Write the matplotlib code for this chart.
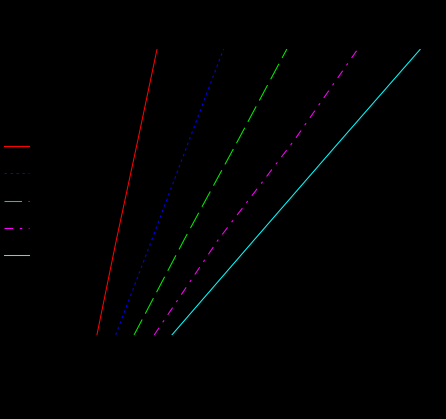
import matplotlib
matplotlib.use('Agg')
import matplotlib.pyplot as plt

plt.rcParams['lines.scale_dashes'] = False

# values (x at four heights, shared y)
size = [38.0, 71.1, 105.9, 138.0]
series_names = ['A', 'B', 'C', 'D', 'E']
series_a = [6.6, 12.2, 18.4, 24.0]
series_b = [12.0, 22.4, 33.2, 43.2]
series_c = [17.3, 31.7, 47.3, 61.5]
series_d = [23.1, 41.5, 63.5, 82.0]
series_e = [28.2, 51.9, 76.9, 100.1]

colors = ['red', 'blue', '#00ee00', 'magenta', 'cyan']
styles = ['-', (0, (1.8, 2.5)), (0, (12.6, 4.8)), (0, (6.3, 4.75, 1.7, 4.75)), '-']

fig = plt.figure(figsize=(4.46, 4.19), dpi=100, facecolor='black')
ax = fig.add_axes([74 / 446, 84 / 419, 347 / 446, 287 / 419])
ax.set_facecolor('black')

all_series = [series_a, series_b, series_c, series_d, series_e]
for vals, name, c, ls in zip(all_series, series_names, colors, styles):
    ax.plot(vals, size, color=c, linestyle=ls, linewidth=0.75, label=name)

ax.set_xlim(0, 100)
ax.set_ylim(38, 138)
for s in ax.spines.values():
    s.set_color('black')
ax.tick_params(colors='black')

handles, labels = ax.get_legend_handles_labels()
leg = fig.legend(handles, labels, loc='center left',
                 bbox_to_anchor=(4 / 446, (419 - 201.5) / 419),
                 frameon=False, borderpad=0, borderaxespad=0,
                 handlelength=1.8, labelspacing=0.95, fontsize=10)
for t in leg.get_texts():
    t.set_color('black')

fig.savefig('out.png', dpi=100, facecolor='black')
